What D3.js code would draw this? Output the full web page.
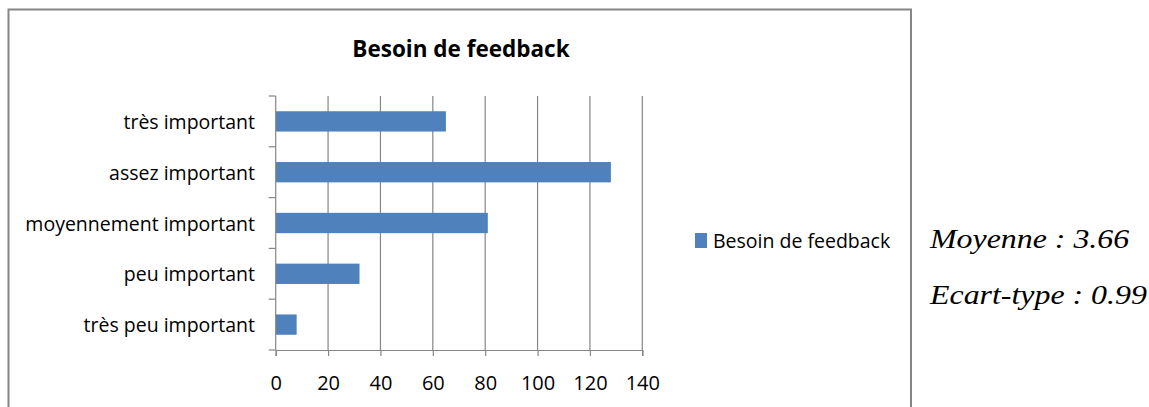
<!DOCTYPE html>
<html>
<head>
<meta charset="utf-8">
<script src="https://cdn.jsdelivr.net/npm/d3@7"></script>
<style>
  body { margin: 0; background: #fff; }
  svg { display: block; }
</style>
</head>
<body>
<svg></svg>
<script>
const width = 1149;
const height = 407;

// Data (top to bottom).
const categories = ["très important", "assez important", "moyennement important", "peu important", "très peu important"];
const values = [65, 128, 81, 32, 8];
const xTicks = [0, 20, 40, 60, 80, 100, 120, 140];
const seriesName = "Besoin de feedback";
const statLines = ["Moyenne : 3.66", "Ecart-type : 0.99"];

const barColor = "#4F81BD";
const gridColor = "#868686";
const sans = "'Open Sans', 'Noto Sans', sans-serif";

const svg = d3.select("svg")
    .attr("width", width)
    .attr("height", height);

svg.append("rect")
    .attr("width", width).attr("height", height)
    .attr("fill", "#fff");

// Chart frame (bottom edge runs off the page).
svg.append("rect")
    .attr("x", 8.5).attr("y", 9.5)
    .attr("width", 902.5).attr("height", 420)
    .attr("fill", "none")
    .attr("stroke", gridColor)
    .attr("stroke-width", 2);

// Title.
svg.append("text")
    .attr("x", 461).attr("y", 57)
    .attr("text-anchor", "middle")
    .style("font-family", sans)
    .style("font-weight", "bold")
    .style("font-size", "22.5px")
    .attr("fill", "#000")
    .text(seriesName);

// Scales.
const x = d3.scaleLinear().domain([0, 140]).range([275.7, 642.3]);
const y = d3.scaleBand()
    .domain(categories)
    .range([96, 350])
    .paddingInner(0.6)
    .paddingOuter(0.3);

// Vertical gridlines.
svg.append("g")
    .selectAll("line")
    .data(xTicks.filter(d => d > 0))
    .join("line")
    .attr("x1", d => x(d)).attr("x2", d => x(d))
    .attr("y1", 96).attr("y2", 350)
    .attr("stroke", gridColor)
    .attr("stroke-width", 1.2);

// Bars.
svg.append("g")
    .selectAll("rect")
    .data(categories)
    .join("rect")
    .attr("x", x(0))
    .attr("y", d => y(d))
    .attr("width", (d, i) => x(values[i]) - x(0))
    .attr("height", y.bandwidth())
    .attr("fill", barColor);

// Bottom axis.
const xAxis = svg.append("g")
    .attr("transform", "translate(0,350)")
    .call(d3.axisBottom(x).tickValues(xTicks).tickSize(6).tickPadding(20));
xAxis.select(".domain").attr("stroke", gridColor).attr("stroke-width", 1.2);
xAxis.selectAll(".tick line").attr("stroke", gridColor).attr("stroke-width", 1.2);
xAxis.selectAll(".tick text")
    .style("font-family", sans)
    .style("font-size", "20px")
    .attr("fill", "#000");

// Left axis: ticks sit on category boundaries, labels in band centres.
const step = y.step();
const boundaries = d3.range(categories.length + 1).map(i => 96 + i * step);
const yAxis = svg.append("g");
yAxis.append("line")
    .attr("x1", x(0)).attr("x2", x(0))
    .attr("y1", 96).attr("y2", 350)
    .attr("stroke", gridColor).attr("stroke-width", 1.2);
yAxis.selectAll(".tk")
    .data(boundaries)
    .join("line")
    .attr("class", "tk")
    .attr("x1", x(0) - 7).attr("x2", x(0))
    .attr("y1", d => d).attr("y2", d => d)
    .attr("stroke", gridColor).attr("stroke-width", 1.2);
yAxis.selectAll("text")
    .data(categories)
    .join("text")
    .attr("x", 255)
    .attr("y", d => y(d) + y.bandwidth() / 2 + 7.5)
    .attr("text-anchor", "end")
    .style("font-family", sans)
    .style("font-size", "19.5px")
    .attr("fill", "#000")
    .text(d => d);

// Legend.
const legend = svg.append("g").attr("transform", "translate(695,233)");
legend.append("rect")
    .attr("width", 12).attr("height", 15)
    .attr("fill", barColor);
legend.append("text")
    .attr("x", 18).attr("y", 15)
    .style("font-family", sans)
    .style("font-size", "19.5px")
    .attr("fill", "#000")
    .text(seriesName);

// Statistics beside the chart (the source text is a little stretched wide).
svg.append("g")
    .attr("transform", "translate(930,0) scale(1.16,1)")
    .selectAll("text")
    .data(statLines)
    .join("text")
    .attr("x", 0)
    .attr("y", (d, i) => 248 + i * 56)
    .style("font-family", "'Liberation Serif', 'Times New Roman', serif")
    .style("font-style", "italic")
    .style("font-size", "27.5px")
    .attr("fill", "#000")
    .text(d => d);
</script>
</body>
</html>
